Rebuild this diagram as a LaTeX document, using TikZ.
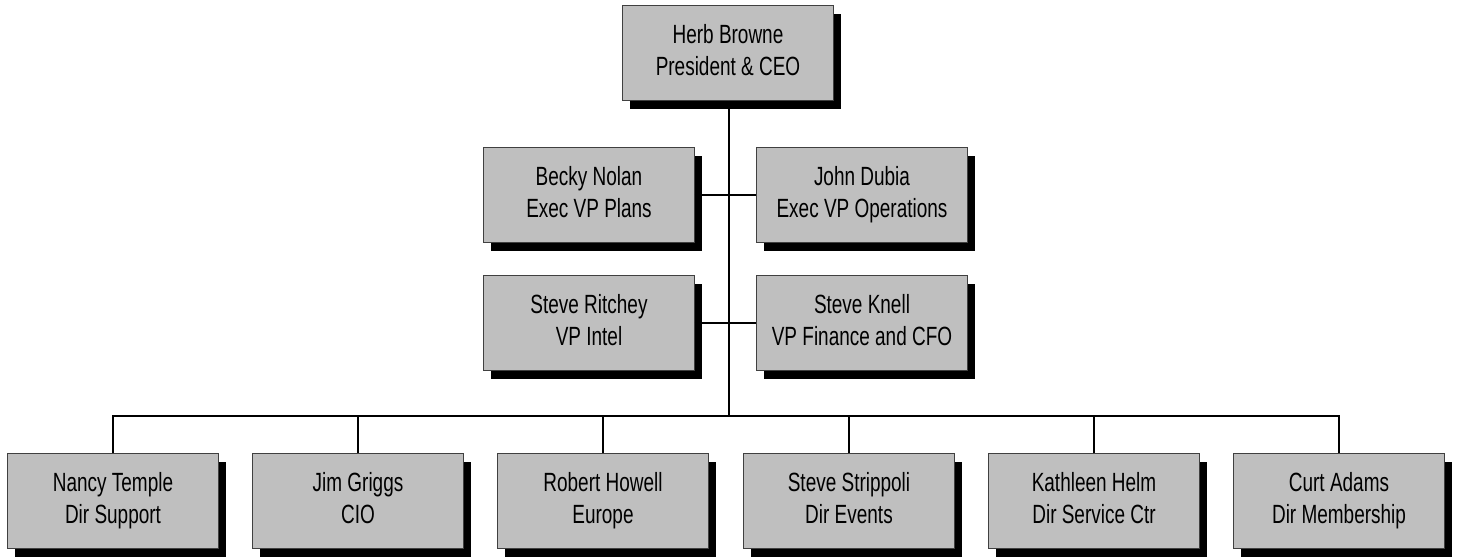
\documentclass[tikz,border=0pt]{standalone}
\usepackage{fontspec}
\setmainfont[FakeStretch=0.72]{Liberation Sans}
\usepackage{tikz}
\usetikzlibrary{shadows}

\newcommand{\boxstrut}{\rule[-3.7pt]{0pt}{18.2pt}}

\tikzset{
  person/.style={draw=black!75,line width=0.5pt,fill=black!25,
    minimum width=4.22cm,minimum height=1.9cm,inner sep=0pt,align=center,
    font=\fontsize{15}{18.4}\selectfont,
    execute at begin node=\boxstrut,execute at end node=\boxstrut,
    drop shadow={shadow xshift=0.15cm,shadow yshift=-0.17cm,fill=black,opacity=1}},
  link/.style={line width=0.8pt,black}
}

\begin{document}
\begin{tikzpicture}[x=0.02cm,y=-0.02cm]
        \useasboundingbox (0,0) rectangle (1457,558);
        % top of the chart
        \node[person] (ceo) at (728,53) {Herb Browne\\President \& CEO};
        % executive staff
        \node[person] (plans) at (589,195) {Becky Nolan\\Exec VP Plans};
        \node[person] (ops) at (862,195) {John Dubia\\Exec VP Operations};
        \node[person] (intel) at (589,323) {Steve Ritchey\\VP Intel};
        \node[person] (cfo) at (862,323) {Steve Knell\\VP Finance and CFO};
        % directors
        \node[person] (support) at (113,501) {Nancy Temple\\Dir Support};
        \node[person] (cio) at (358,501) {Jim Griggs\\CIO};
        \node[person] (europe) at (603,501) {Robert Howell\\Europe};
        \node[person] (events) at (849,501) {Steve Strippoli\\Dir Events};
        \node[person] (service) at (1094,501) {Kathleen Helm\\Dir Service Ctr};
        \node[person] (member) at (1339,501) {Curt Adams\\Dir Membership};
        \coordinate (bus) at (729,416);
        \draw[link] (ceo.south -| bus) -- (bus);
        \draw[link] (plans) -- (ops);
        \draw[link] (intel) -- (cfo);
        \draw[link] (support.north) |- (bus);
        \draw[link] (member.north) |- (bus);
        \foreach \d in {cio,europe,events,service}
            \draw[link] (\d.north) -- (\d.north |- bus);
\end{tikzpicture}
\end{document}
